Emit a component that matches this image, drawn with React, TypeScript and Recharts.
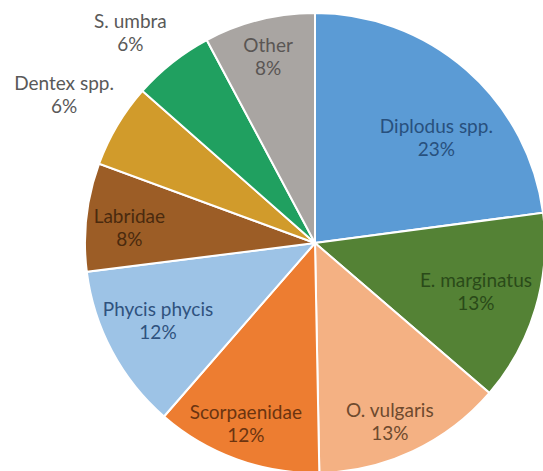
import { PieChart, Pie, Cell } from "recharts"

const species = [
  "Diplodus spp.",
  "E. marginatus",
  "O. vulgaris",
  "Scorpaenidae",
  "Phycis phycis",
  "Labridae",
  "Dentex spp.",
  "S. umbra",
  "Other",
]
const shares = [22.9, 13.4, 13.4, 11.7, 11.6, 7.6, 5.9, 5.7, 7.8]

const data = species.map((name, i) => ({ name, value: shares[i] }))

const fills = ["#5b9bd5", "#548235", "#f4b183", "#ed7d31", "#9dc3e6", "#9c5d26", "#d19b2b", "#20a060", "#a9a5a2"]
const textColors = ["#28507d", "#2a4a19", "#6e4a2e", "#6b3410", "#2f527e", "#4a2a0e", "#595959", "#595959", "#5a5654"]
// label radius (fraction of outer radius) and clockwise nudge in degrees
const labelPos = [
  { r: 0.7, nudge: 7.7 },
  { r: 0.73, nudge: 0 },
  { r: 0.84, nudge: 2.4 },
  { r: 0.84, nudge: 1 },
  { r: 0.76, nudge: 2 },
  { r: 0.81, nudge: -1.6 },
  { r: 1.27, nudge: 0 },
  { r: 1.22, nudge: -2.8 },
  { r: 0.84, nudge: 0 },
]

const RAD = Math.PI / 180

function SliceLabel(props: any) {
  const { cx, cy, midAngle, outerRadius, percent, index, name } = props
  const pos = labelPos[index]
  const a = (midAngle - pos.nudge) * RAD
  const r = outerRadius * pos.r
  const x = cx + r * Math.cos(a)
  const y = cy - r * Math.sin(a)
  return (
    <text
      x={x}
      y={y}
      textAnchor="middle"
      fill={textColors[index]}
      fontFamily="Lato, sans-serif"
      fontSize={19}
    >
      <tspan x={x} y={y - 11.5} dominantBaseline="central">{name}</tspan>
      <tspan x={x} y={y + 11.5} dominantBaseline="central">{Math.round(percent * 100)}%</tspan>
    </text>
  )
}

export default function App() {
  return (
    <div style={{ position: "absolute", top: 0, left: 0, width: 543, height: 471, background: "#fff" }}>
      <PieChart width={543} height={471} margin={{ top: 0, right: 0, bottom: 0, left: 0 }}>
        <Pie
          data={data}
          dataKey="value"
          nameKey="name"
          cx={315}
          cy={243}
          outerRadius={230}
          startAngle={90}
          endAngle={-270}
          stroke="#fff"
          strokeWidth={2}
          label={SliceLabel}
          labelLine={false}
          isAnimationActive={false}
        >
          {data.map((d, i) => (
            <Cell key={d.name} fill={fills[i]} />
          ))}
        </Pie>
      </PieChart>
    </div>
  )
}
